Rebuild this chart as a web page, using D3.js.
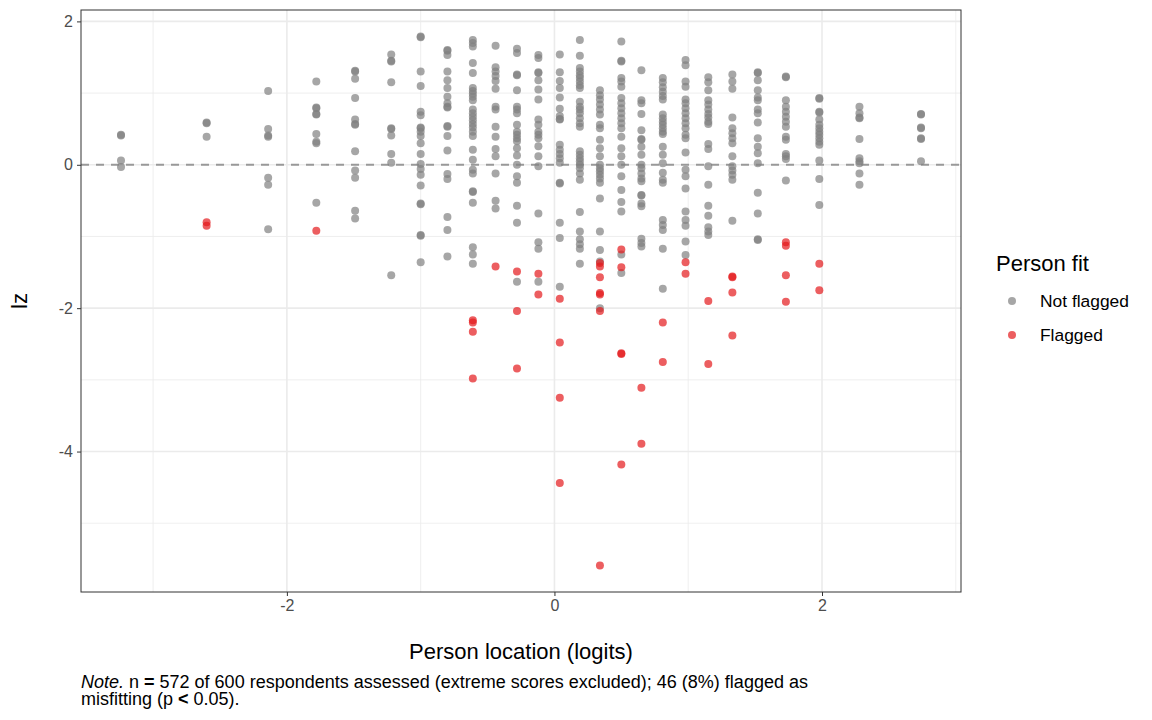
<!DOCTYPE html>
<html>
<head>
<meta charset="utf-8">
<script src="https://cdn.jsdelivr.net/npm/d3@7"></script>
<style>
  body { margin: 0; background: #fff; }
  svg { font-family: 'Liberation Sans', Arial, Helvetica, sans-serif; }
</style>
</head>
<body>
<div id="chart"></div>
<script>

// Person locations (logits), one per raw score column.
var locations = [-3.24, -2.60, -2.14, -1.78, -1.49, -1.22, -1.00, -0.80, -0.61,
  -0.44, -0.28, -0.12, 0.04, 0.19, 0.34, 0.50, 0.65, 0.81, 0.98, 1.15, 1.33,
  1.52, 1.73, 1.98, 2.28, 2.74];

// lz values of persons not flagged, per location column.
var notFlaggedLz = [
  [0.41, 0.42, 0.06, -0.03],
  [0.58, 0.59, 0.39],
  [1.03, 0.50, 0.41, 0.39, -0.18, -0.28, -0.90],
  [1.16, 0.80, 0.79, 0.71, 0.70, 0.43, 0.32, 0.30, -0.53],
  [1.30, 1.31, 1.20, 0.93, 0.63, 0.57, 0.56, 0.19, -0.08, -0.18, -0.64, -0.75],
  [1.54, 1.45, 1.44, 1.15, 0.51, 0.50, 0.41, 0.15, 0.03, -1.54],
  [1.78, 1.79, 1.30, 1.10, 0.74, 0.69, 0.51, 0.52, 0.46, 0.40, 0.30, 0.15, 0.01,
    -0.06, -0.14, -0.29, -0.55, -0.54, -0.99, -0.98, -1.36],
  [1.59, 1.60, 1.53, 1.30, 1.18, 1.07, 0.95, 0.86, 0.81, 0.80, 0.53, 0.54, 0.40,
    0.20, -0.13, -0.20, -0.73, -0.91, -1.28],
  [1.74, 1.70, 1.65, 1.42, 1.28, 1.07, 1.03, 0.99, 0.95, 0.90, 0.77, 0.72, 0.67,
    0.62, 0.57, 0.52, 0.46, 0.40, 0.21, 0.07, -0.07, -0.12, -0.37, -0.38, -0.53,
    -1.15, -1.25, -1.38],
  [1.66, 1.36, 1.30, 1.24, 1.17, 1.06, 0.81, 0.77, 0.53, 0.39, 0.22, 0.12, -0.12,
    -0.50, -0.61],
  [1.62, 1.56, 1.25, 1.26, 1.04, 0.81, 0.77, 0.72, 0.56, 0.46, 0.42, 0.37, 0.33,
    0.23, 0.13, 0.00, -0.16, -0.25, -0.57, -0.81, -1.63],
  [1.53, 1.49, 1.29, 1.28, 1.18, 1.05, 0.91, 0.63, 0.56, 0.46, 0.42, 0.37, 0.26,
    0.12, -0.02, -0.68, -1.08, -1.17, -1.63],
  [1.54, 1.29, 1.17, 1.07, 0.94, 0.78, 0.68, 0.64, 0.63, 0.28, 0.21, 0.15, 0.09,
    0.03, -0.25, -0.26, -0.81, -1.02, -1.70],
  [1.74, 1.52, 1.35, 1.30, 1.25, 1.21, 1.16, 1.11, 1.07, 0.88, 0.81, 0.77, 0.72,
    0.65, 0.58, 0.53, 0.19, 0.14, 0.09, 0.05, 0.00, -0.05, -0.12, -0.21, -0.66,
    -0.93, -1.04, -1.11, -1.17, -1.38],
  [1.04, 0.97, 0.91, 0.84, 0.77, 0.70, 0.56, 0.51, 0.35, 0.23, 0.12, 0.00, -0.05,
    -0.09, -0.14, -0.19, -0.25, -0.47, -0.93, -1.19, -1.35, -2.00],
  [1.72, 1.44, 1.45, 1.21, 1.16, 1.09, 0.93, 0.86, 0.79, 0.72, 0.65, 0.58, 0.51,
    0.39, 0.23, 0.12, 0.00, -0.16, -0.35, -0.52, -0.65, -1.25, -1.51],
  [1.32, 0.90, 0.86, 0.71, 0.48, 0.35, 0.36, 0.25, 0.14, 0.00, -0.05, -0.12, -0.19,
    -0.23, -0.42, -0.43, -0.54, -0.58, -1.03, -1.09, -1.14],
  [1.21, 1.15, 1.08, 1.02, 0.96, 0.91, 0.70, 0.65, 0.60, 0.56, 0.51, 0.46, 0.43,
    0.25, 0.14, 0.02, -0.11, -0.21, -0.25, -0.77, -0.84, -0.91, -1.17, -1.73],
  [1.46, 1.39, 1.16, 1.09, 0.91, 0.86, 0.79, 0.72, 0.65, 0.58, 0.51, 0.42, 0.37,
    0.17, -0.07, -0.16, -0.33, -0.65, -0.77, -0.85, -1.07, -1.26],
  [1.22, 1.15, 1.04, 0.90, 0.84, 0.77, 0.71, 0.66, 0.60, 0.57, 0.29, 0.22, -0.02,
    -0.28, -0.57, -0.71, -0.87, -0.93, -0.98],
  [1.26, 1.16, 1.06, 0.66, 0.51, 0.44, 0.37, 0.30, 0.12, -0.02, -0.08, -0.14,
    -0.21, -0.78],
  [1.28, 1.29, 1.18, 1.04, 0.94, 0.90, 0.77, 0.72, 0.59, 0.37, 0.25, 0.16, 0.02,
    -0.39, -0.68, -1.04, -1.05],
  [1.23, 1.22, 0.90, 0.81, 0.74, 0.67, 0.60, 0.53, 0.39, 0.35, 0.15, 0.12, 0.08,
    -0.22],
  [0.92, 0.93, 0.73, 0.74, 0.63, 0.56, 0.51, 0.46, 0.42, 0.37, 0.32, 0.28, 0.06,
    -0.20, -0.56],
  [0.81, 0.72, 0.65, 0.66, 0.36, 0.09, 0.05, 0.02, -0.12, -0.28],
  [0.70, 0.71, 0.51, 0.52, 0.36, 0.37, 0.05]
];

// lz values of flagged (misfitting) persons, per location column.
var flaggedLz = [
  [], [-0.80, -0.85], [], [-0.92], [], [], [], [],
  [-2.17, -2.20, -2.33, -2.98],
  [-1.42],
  [-1.49, -2.04, -2.84],
  [-1.52, -1.81],
  [-1.87, -2.48, -3.25, -4.44],
  [],
  [-1.37, -1.42, -1.57, -1.79, -1.81, -2.04, -5.59],
  [-1.18, -1.43, -2.63, -2.64, -4.18],
  [-3.11, -3.89],
  [-2.20, -2.75],
  [-1.36, -1.52],
  [-1.90, -2.78],
  [-1.56, -1.57, -1.78, -2.38],
  [],
  [-1.08, -1.13, -1.54, -1.91],
  [-1.38, -1.75],
  [], []
];

var groups = ['Not flagged', 'Flagged'];
var xTicks = [-2, 0, 2];
var yTicks = [2, 0, -2, -4];
var note = {
  n: 572, total: 600, flagged: 46, pct: '8%', p: '0.05'
};


function translate(x, y) {
  return 'translate(' + x + ', ' + y + ')';
}

var layout = {
  width: 1152,
  height: 720,
  panel: { left: 81, top: 10, right: 961, bottom: 592 },
  radius: 4,
  textColor: '#4d4d4d'
};

var colors = { 'Not flagged': '#808080', 'Flagged': '#e41a1c' };

// Flatten the columns into point records.
var points = [];
groups.forEach(function(g) {
  var src = (g === 'Flagged') ? flaggedLz : notFlaggedLz;
  src.forEach(function(col, i) {
    col.forEach(function(v) {
      points.push({ location: locations[i], lz: v, group: g });
    });
  });
});

// ggplot-like 5% expansion.
function expand(ext) {
  var pad = (ext[1] - ext[0]) * 0.05;
  return [ext[0] - pad, ext[1] + pad];
}

var x = d3.scaleLinear()
  .domain(expand(d3.extent(points, function(d) { return d.location; })))
  .range([layout.panel.left, layout.panel.right]);

var y = d3.scaleLinear()
  .domain(expand(d3.extent(points, function(d) { return d.lz; })))
  .range([layout.panel.bottom, layout.panel.top]);

var svg = d3.select('#chart').append('svg')
  .attr('width', layout.width)
  .attr('height', layout.height);

var panel = layout.panel;

// Grid lines (major + minor).
var xMinor = d3.range(Math.ceil(x.domain()[0]), Math.floor(x.domain()[1]) + 1)
  .filter(function(v) { return xTicks.indexOf(v) < 0; });
var yMinor = d3.range(Math.ceil(y.domain()[0]), Math.floor(y.domain()[1]) + 1)
  .filter(function(v) { return yTicks.indexOf(v) < 0; });

var grid = svg.append('g');

grid.selectAll('.xminor').data(xMinor).enter()
  .append('line')
    .attr('x1', function(d) { return x(d); })
    .attr('x2', function(d) { return x(d); })
    .attr('y1', panel.top)
    .attr('y2', panel.bottom)
    .attr('stroke', '#ebebeb')
    .attr('stroke-width', 0.8);

grid.selectAll('.yminor').data(yMinor).enter()
  .append('line')
    .attr('x1', panel.left)
    .attr('x2', panel.right)
    .attr('y1', function(d) { return y(d); })
    .attr('y2', function(d) { return y(d); })
    .attr('stroke', '#ebebeb')
    .attr('stroke-width', 0.8);

grid.selectAll('.xmajor').data(xTicks).enter()
  .append('line')
    .attr('x1', function(d) { return x(d); })
    .attr('x2', function(d) { return x(d); })
    .attr('y1', panel.top)
    .attr('y2', panel.bottom)
    .attr('stroke', '#ebebeb')
    .attr('stroke-width', 1.6);

grid.selectAll('.ymajor').data(yTicks).enter()
  .append('line')
    .attr('x1', panel.left)
    .attr('x2', panel.right)
    .attr('y1', function(d) { return y(d); })
    .attr('y2', function(d) { return y(d); })
    .attr('stroke', '#ebebeb')
    .attr('stroke-width', 1.6);

// Reference line at lz = 0.
svg.append('line')
  .attr('x1', panel.left)
  .attr('x2', panel.right)
  .attr('y1', y(0))
  .attr('y2', y(0))
  .attr('stroke', '#999999')
  .attr('stroke-width', 1.9)
  .attr('stroke-dasharray', '8, 7');

// Points.
svg.append('g').selectAll('circle').data(points).enter()
  .append('circle')
    .attr('cx', function(d) { return x(d.location); })
    .attr('cy', function(d) { return y(d.lz); })
    .attr('r', layout.radius)
    .attr('fill', function(d) { return colors[d.group]; })
    .attr('fill-opacity', 0.7);

// Panel border.
svg.append('rect')
  .attr('x', panel.left)
  .attr('y', panel.top)
  .attr('width', panel.right - panel.left)
  .attr('height', panel.bottom - panel.top)
  .attr('fill', 'none')
  .attr('stroke', '#333333')
  .attr('stroke-width', 1);

// Axes (plain hyphen minus, as in R).
function fmt(d) { return String(d); }

var xAxis = svg.append('g')
  .attr('transform', translate(0, panel.bottom))
  .call(d3.axisBottom(x).tickValues(xTicks).tickSize(4).tickPadding(4)
    .tickFormat(fmt));

var yAxis = svg.append('g')
  .attr('transform', translate(panel.left, 0))
  .call(d3.axisLeft(y).tickValues(yTicks).tickSize(4).tickPadding(4)
    .tickFormat(fmt));

[xAxis, yAxis].forEach(function(a) {
  a.select('.domain').remove();
  a.selectAll('line').attr('stroke', '#333333');
  a.selectAll('text')
    .attr('fill', layout.textColor)
    .style('font-size', '16px')
    .style('font-family', "'Liberation Sans', Arial, sans-serif");
});

// Axis titles.
svg.append('text')
  .text('Person location (logits)')
  .attr('x', (panel.left + panel.right) / 2)
  .attr('y', 659)
  .attr('text-anchor', 'middle')
  .style('font-size', '22px');

svg.append('text')
  .text('lz')
  .attr('transform', translate(27, (panel.top + panel.bottom) / 2) + ' rotate(-90)')
  .attr('text-anchor', 'middle')
  .style('font-size', '22px');

// Legend.
var legend = svg.append('g')
  .attr('transform', translate(996, 0));

legend.append('text')
  .text('Person fit')
  .attr('x', 0)
  .attr('y', 271)
  .style('font-size', '22px');

var keys = legend.selectAll('.key').data(groups).enter()
  .append('g')
    .classed('key', true)
    .attr('transform', function(d, i) { return translate(0, 301 + i * 34); });

keys.append('circle')
  .attr('cx', 16)
  .attr('cy', 0)
  .attr('r', layout.radius)
  .attr('fill', function(d) { return colors[d]; })
  .attr('fill-opacity', 0.7);

keys.append('text')
  .text(function(d) { return d; })
  .attr('x', 44)
  .attr('y', 6)
  .style('font-size', '17.4px');

// Caption.
var cap1 = svg.append('text')
  .attr('x', panel.left)
  .attr('y', 688)
  .style('font-size', '18px');

cap1.append('tspan').text('Note.').style('font-style', 'italic');
cap1.append('tspan').text(' n ');
cap1.append('tspan').text('=').style('font-weight', 'bold');
cap1.append('tspan').text(' ' + note.n + ' of ' + note.total +
  ' respondents assessed (extreme scores excluded); ' + note.flagged +
  ' (' + note.pct + ') flagged as');

var cap2 = svg.append('text')
  .attr('x', panel.left)
  .attr('y', 705)
  .style('font-size', '18px');

cap2.append('tspan').text('misfitting (p ');
cap2.append('tspan').text('<').style('font-weight', 'bold');
cap2.append('tspan').text(' ' + note.p + ').');

</script>
</body>
</html>
